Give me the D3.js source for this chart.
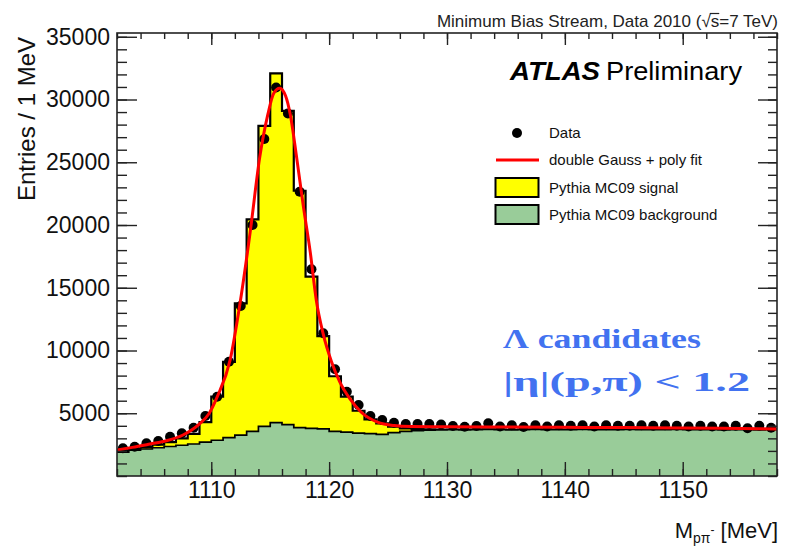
<!DOCTYPE html>
<html><head><meta charset="utf-8">
<script src="https://cdn.jsdelivr.net/npm/d3@7"></script>
<style>body{margin:0;background:#fff}svg{display:block}</style>
</head><body><svg id="c" width="786" height="550"></svg>
<script>
// ---- data (1 MeV bins, low edges 1102 ... 1157) ----
const binLow = d3.range(1102, 1158);
const dataCounts = [2210,2330,2600,2790,3130,3400,3850,4780,6320,9100,13540,20000,26850,30960,28890,22650,16470,11370,8500,6720,5660,4780,4460,4250,4140,4140,4140,4100,3980,3930,3980,4200,
  3950,4050,3900,4050,3950,4050,4000,4050,3950,4050,4000,4000,4050,4000,4050,4000,3950,4000,3950,3950,4000,3800,4000,3850];
const mcBackground = [1900,2050,2150,2250,2350,2450,2550,2700,2850,3050,3250,3550,3950,4250,4100,3850,3800,3750,3550,3500,3420,3380,3320,3450,3550,3620,3650,3680,
  3700,3680,3700,3720,3700,3680,3700,3720,3700,3690,3700,3710,3700,3690,3700,3720,3700,3690,3700,3710,3700,3690,3700,3680,3700,3690,3680,3700];
const mcSignal = [100,100,150,250,350,550,800,1600,3470,6050,10510,16900,23950,27830,25000,18880,12080,7400,4400,2820,1780,1140,880,480,250,120,70,20,
  0,0,0,0,0,0,0,0,0,0,0,0,0,0,0,0,0,0,0,0,0,0,0,0,0,0,0,0];
// fit curve
const fitMass  = [1102,1103.3,1104.8,1106.2,1107.6,1109.0,1109.8,1110.5,1111.6,1112.4,1113.3,1114.1,1114.8,1115.3,1115.8,1116.3,1116.7,1117.25,1117.8,1118.4,1118.9,1119.5,1120.2,1120.9,1121.8,1122.7,1124.1,1125.5,1127,1130,1135,1140,1145,1150,1155,1158];
const fitValue = [2070,2280,2550,2810,3270,4160,4960,6300,9250,13530,19430,25330,28810,30500,30900,30300,28810,25330,21570,17820,14070,11300,9100,7500,6100,5100,4290,4020,3940,3920,3900,3880,3860,3830,3780,3750];
const xMajorTicks = [1110,1120,1130,1140,1150];
const xMinorTicks = d3.range(1102, 1159, 2);
const yMajorTicks = [5000,10000,15000,20000,25000,30000,35000];
const yMinorTicks = d3.range(0, 35001, 1000);
const legendLabels = ["Data","double Gauss + poly fit","Pythia MC09 signal","Pythia MC09 background"];

const svg = d3.select("#c");
const L = 117, R = 777, T = 33, B = 476;
const x = d3.scaleLinear().domain([1102, 1158]).range([L, R]);
const y = d3.scaleLinear().domain([0, 35300]).range([B, T]);
const SANS = "'Liberation Sans', Arial, Helvetica, sans-serif";

svg.append("defs").append("clipPath").attr("id","fr").append("rect")
  .attr("x",L).attr("y",T).attr("width",R-L).attr("height",B-T);

const bins = binLow.map((m,i)=>({m, bg:mcBackground[i], tot:mcBackground[i]+mcSignal[i], d:dataCounts[i]}));
const stepPts = key => bins.map(b=>({m:b.m, v:b[key]})).concat([{m:1158, v:bins[bins.length-1][key]}]);

const g = svg.append("g").attr("clip-path","url(#fr)");
const area = d3.area().curve(d3.curveStepAfter).x(d=>x(d.m)).y0(y(0)).y1(d=>y(d.v));
const line = d3.line().curve(d3.curveStepAfter).x(d=>x(d.m)).y(d=>y(d.v));

g.append("path").datum(stepPts("tot")).attr("d",area).attr("fill","#ffff00");
g.append("path").datum(stepPts("tot")).attr("d",line).attr("fill","none").attr("stroke","#000").attr("stroke-width",2.2);
g.append("path").datum(stepPts("bg")).attr("d",area).attr("fill","#99cc99");
g.append("path").datum(stepPts("bg")).attr("d",line).attr("fill","none").attr("stroke","#000").attr("stroke-width",1.7);

g.selectAll("circle.dp").data(bins).join("circle").attr("class","dp")
  .attr("cx",d=>x(d.m+0.5)).attr("cy",d=>y(d.d)).attr("r",5).attr("fill","#000");

const fitPts = fitMass.map((m,i)=>[m,fitValue[i]]);
g.append("path").datum(fitPts).attr("fill","none").attr("stroke","#ff0000").attr("stroke-width",3)
  .attr("d", d3.line().curve(d3.curveMonotoneX).x(d=>x(d[0])).y(d=>y(d[1])));

// ---- axes ----
function styleAxis(sel){ sel.select(".domain").remove(); sel.selectAll(".tick line").attr("stroke","#222").attr("stroke-width",1.4); sel.selectAll("text").attr("font-family",SANS).attr("fill","#111"); }
svg.append("g").attr("transform",`translate(${L},0)`).call(d3.axisLeft(y).tickValues(yMinorTicks).tickSize(-10).tickFormat("")).call(styleAxis);
svg.append("g").attr("transform",`translate(${L},0)`).call(d3.axisLeft(y).tickValues(yMajorTicks).tickSize(-20).tickPadding(7).tickFormat(d3.format("d"))).call(styleAxis)
  .selectAll("text").attr("font-size",23);
svg.append("g").attr("transform",`translate(${R},0)`).call(d3.axisRight(y).tickValues(yMinorTicks).tickSize(-9).tickFormat("")).call(styleAxis);
svg.append("g").attr("transform",`translate(${R},0)`).call(d3.axisRight(y).tickValues(yMajorTicks).tickSize(-19).tickFormat("")).call(styleAxis);
svg.append("g").attr("transform",`translate(0,${B})`).call(d3.axisBottom(x).tickValues(xMinorTicks).tickSize(-7).tickFormat("")).call(styleAxis);
svg.append("g").attr("transform",`translate(0,${B})`).call(d3.axisBottom(x).tickValues(xMajorTicks).tickSize(-14).tickPadding(6).tickFormat(d3.format("d"))).call(styleAxis)
  .selectAll("text").attr("font-size",23);
svg.append("g").attr("transform",`translate(0,${T})`).call(d3.axisTop(x).tickValues(xMinorTicks).tickSize(-6).tickFormat("")).call(styleAxis);
svg.append("g").attr("transform",`translate(0,${T})`).call(d3.axisTop(x).tickValues(xMajorTicks).tickSize(-12).tickFormat("")).call(styleAxis);

svg.append("rect").attr("x",L).attr("y",T).attr("width",R-L).attr("height",B-T)
  .attr("fill","none").attr("stroke","#222").attr("stroke-width",1.6);

// ---- titles ----
svg.append("text").attr("transform","rotate(-90)").attr("x",-37).attr("y",35)
  .attr("text-anchor","end").attr("font-family",SANS).attr("font-size",24).attr("fill","#111").text("Entries / 1 MeV");

const xt = svg.append("text").attr("x",778).attr("y",538).attr("text-anchor","end")
  .attr("font-family",SANS).attr("font-size",22).attr("fill","#111");
xt.append("tspan").text("M");
xt.append("tspan").attr("font-size",14).attr("dy",5).text("pπ");
xt.append("tspan").attr("font-size",12).attr("dy",-9).text("-");
xt.append("tspan").attr("dy",4).text(" [MeV]");

const titleStr1 = "Minimum Bias Stream, Data 2010 (√", titleStr2 = "s", titleStr3 = "=7 TeV)";
const tt = svg.append("text").attr("x",778).attr("y",26.5).attr("text-anchor","end")
  .attr("font-family",SANS).attr("font-size",17).attr("fill","#222");
tt.text(titleStr1 + titleStr2 + titleStr3);
(function(){
  const n = tt.node(); const i = titleStr1.length;
  const a = n.getExtentOfChar(i-1), b = n.getExtentOfChar(i);
  svg.append("line").attr("x1",a.x+a.width-1).attr("x2",b.x+b.width).attr("y1",a.y+2).attr("y2",a.y+2)
    .attr("stroke","#222").attr("stroke-width",1.2);
})();

svg.append("text").attr("x",510).attr("y",80).attr("font-family",SANS).attr("font-size",26)
  .attr("font-weight","bold").attr("font-style","italic").attr("textLength",90).attr("lengthAdjust","spacingAndGlyphs").text("ATLAS");
svg.append("text").attr("x",606).attr("y",80).attr("font-family",SANS).attr("font-size",26)
  .attr("textLength",136).attr("lengthAdjust","spacingAndGlyphs").text("Preliminary");

// ---- legend ----
const lg = svg.append("g").attr("font-family",SANS).attr("font-size",15).attr("fill","#111");
lg.append("circle").attr("cx",517).attr("cy",133).attr("r",5).attr("fill","#000");
lg.append("line").attr("x1",496).attr("x2",539).attr("y1",160).attr("y2",160).attr("stroke","#ff0000").attr("stroke-width",3);
lg.append("rect").attr("x",495.5).attr("y",178).attr("width",43).attr("height",19).attr("fill","#ffff00").attr("stroke","#000").attr("stroke-width",2);
lg.append("rect").attr("x",495.5).attr("y",205).attr("width",43).attr("height",19).attr("fill","#99cc99").attr("stroke","#000").attr("stroke-width",2);
const lgY = [138,165,193,220];
legendLabels.forEach((t,i)=>lg.append("text").attr("x",549).attr("y",lgY[i]).text(t));

// ---- blue annotation ----
const SERIF = "'Liberation Serif', 'DejaVu Serif', serif";
svg.append("text").attr("x",503).attr("y",348).attr("font-family",SERIF).attr("font-weight","bold")
  .attr("font-size",28).attr("fill","#4272f0").attr("textLength",198).attr("lengthAdjust","spacingAndGlyphs").text("Λ candidates");
svg.append("text").attr("x",503).attr("y",391).attr("font-family",SERIF).attr("font-weight","bold")
  .attr("font-size",28).attr("fill","#4272f0").attr("textLength",247).attr("lengthAdjust","spacingAndGlyphs").text("|η|(p,π) < 1.2");
</script></body></html>
